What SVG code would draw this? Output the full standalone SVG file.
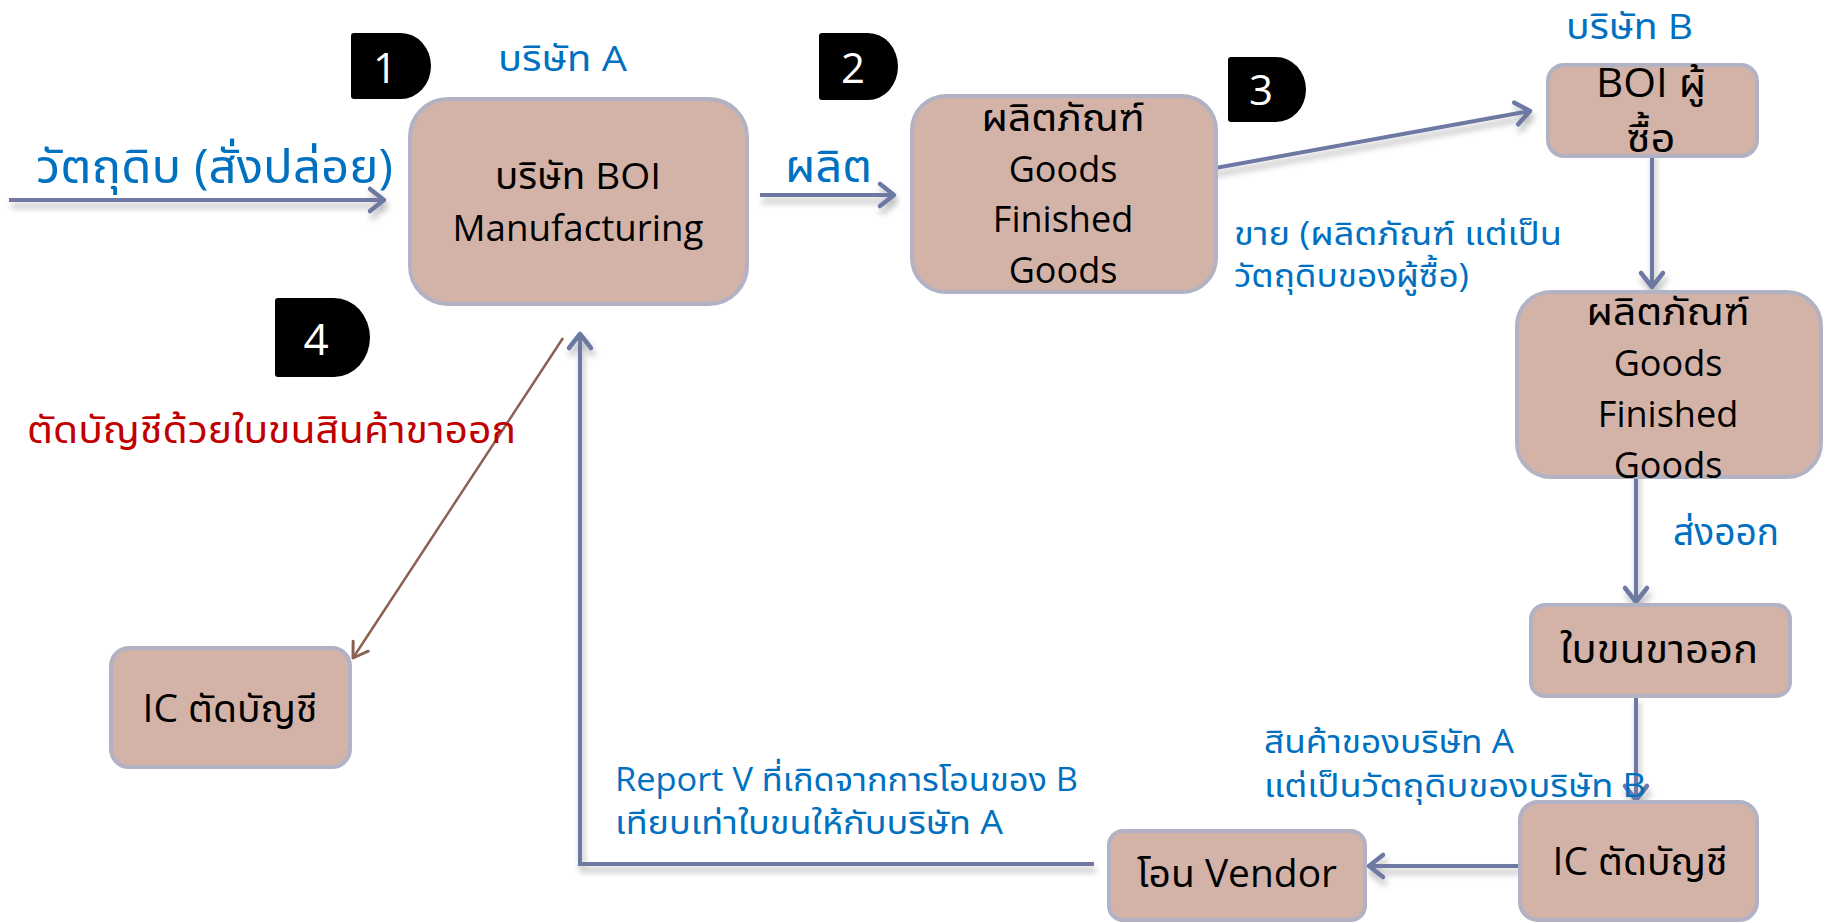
<svg xmlns="http://www.w3.org/2000/svg" width="1828" height="923" viewBox="0 0 1828 923">
<style>
.box{fill:#d3b3a8;stroke:#b2b2c5;stroke-width:4}
.t{font-family:"Open Sans","Noto Sans Thai","Noto Sans",sans-serif;fill:#000;text-anchor:middle}
.b{font-family:"Open Sans","Noto Sans Thai","Noto Sans",sans-serif;fill:#0070c0}
.r{font-family:"Open Sans","Noto Sans Thai","Noto Sans",sans-serif;fill:#c00000}
.badge{fill:#000}
.num{font-family:"Open Sans","Noto Sans",sans-serif;fill:#fff;font-size:42px;text-anchor:middle}
.conn{fill:none;stroke:#6d79a2;stroke-width:4;marker-end:url(#arr);filter:url(#sh)}
.brown{fill:none;stroke:#8a6152;stroke-width:2.5;marker-end:url(#arrB)}
</style>
<defs>
<marker id="arr" markerUnits="userSpaceOnUse" markerWidth="30" markerHeight="30" viewBox="-20 -15 24 30" refX="0" refY="0" orient="auto">
<path d="M-14,-11 L0,0 L-14,11" fill="none" stroke="#6d79a2" stroke-width="4.5" stroke-linecap="round" stroke-linejoin="round"/>
</marker>
<marker id="arrB" markerUnits="userSpaceOnUse" markerWidth="30" markerHeight="30" viewBox="-20 -15 24 30" refX="0" refY="0" orient="auto">
<path d="M-14,-9 L0,0 L-14,9" fill="none" stroke="#8a6152" stroke-width="3" stroke-linecap="round" stroke-linejoin="round"/>
</marker>
<filter id="sh" filterUnits="userSpaceOnUse" x="0" y="0" width="1828" height="923">
<feDropShadow dx="2" dy="6" stdDeviation="3" flood-color="#000" flood-opacity="0.28"/>
</filter>
</defs>

<g id="connectors">
<path class="conn" d="M9,200 H384"/>
<path class="conn" d="M760,195 H894"/>
<path class="conn" d="M1199,171 L1530,111"/>
<path class="conn" d="M1652,152 V287"/>
<path class="conn" d="M1636,468 V602"/>
<path class="conn" d="M1636,696 V800"/>
<path class="conn" d="M1519,866 H1369"/>
<path class="conn" d="M1094,864 H580 V334"/>
<path class="brown" d="M563,338 L353,658"/>
</g>

<g id="badge1"><path class="badge" d="M354,33 H401 A30,33 0 0 1 401,99 H354 Q351,99 351,96 V36 Q351,33 354,33 Z"/><text class="num" x="385" y="83">1</text></g>
<g id="badge2"><path class="badge" d="M822,33 H868 A30,33.5 0 0 1 868,100 H822 Q819,100 819,97 V36 Q819,33 822,33 Z"/><text class="num" x="853" y="83">2</text></g>
<g id="badge3"><path class="badge" d="M1231,57 H1276 A30,32.5 0 0 1 1276,122 H1231 Q1228,122 1228,119 V60 Q1228,57 1231,57 Z"/><text class="num" x="1261" y="105">3</text></g>
<g id="badge4"><path class="badge" d="M278,298 H334 A36,39.5 0 0 1 334,377 H278 Q275,377 275,374 V301 Q275,298 278,298 Z"/><text class="num" x="316" y="355" style="font-size:44px">4</text></g>

<g id="label-companyA"><text class="b" x="498" y="71" font-size="35" textLength="129" lengthAdjust="spacingAndGlyphs">บริษัท A</text></g>
<g id="label-raw"><text class="b" x="36" y="183" font-size="47" textLength="357" lengthAdjust="spacingAndGlyphs">วัตถุดิบ (สั่งปล่อย)</text></g>
<g id="label-produce"><text class="b" x="785" y="182" font-size="44" textLength="87" lengthAdjust="spacingAndGlyphs">ผลิต</text></g>
<g id="label-companyB"><text class="b" x="1566" y="39" font-size="35" textLength="127" lengthAdjust="spacingAndGlyphs">บริษัท B</text></g>
<g id="label-sell"><text class="b" x="1234" y="245" font-size="32" textLength="328" lengthAdjust="spacingAndGlyphs">ขาย (ผลิตภัณฑ์ แต่เป็น</text><text class="b" x="1234" y="287" font-size="32" textLength="235" lengthAdjust="spacingAndGlyphs">วัตถุดิบของผู้ซื้อ)</text></g>
<g id="label-export"><text class="b" x="1673" y="545" font-size="37" textLength="106" lengthAdjust="spacingAndGlyphs">ส่งออก</text></g>
<g id="label-cut"><text class="r" x="27" y="443" font-size="37" textLength="489" lengthAdjust="spacingAndGlyphs">ตัดบัญชีด้วยใบขนสินค้าขาออก</text></g>
<g id="label-report"><text class="b" x="615" y="791" font-size="32" textLength="463" lengthAdjust="spacingAndGlyphs">Report V ที่เกิดจากการโอนของ B</text><text class="b" x="615" y="834" font-size="32" textLength="388" lengthAdjust="spacingAndGlyphs">เทียบเท่าใบขนให้กับบริษัท A</text></g>
<g id="label-goodsA"><text class="b" x="1264" y="753" font-size="32" textLength="250" lengthAdjust="spacingAndGlyphs">สินค้าของบริษัท A</text><text class="b" x="1264" y="797" font-size="32" textLength="382" lengthAdjust="spacingAndGlyphs">แต่เป็นวัตถุดิบของบริษัท B</text></g>

<g id="node-boi-mfg"><rect class="box" x="410" y="99" width="337" height="205" rx="38"/><text class="t" x="578" y="189" font-size="37" textLength="166" lengthAdjust="spacingAndGlyphs">บริษัท BOI</text><text class="t" x="578" y="241" font-size="37" textLength="251" lengthAdjust="spacingAndGlyphs">Manufacturing</text></g>
<g id="node-goods1"><rect class="box" x="912" y="96" width="304" height="196" rx="34"/><text class="t" x="1063" y="131" font-size="38" textLength="163" lengthAdjust="spacingAndGlyphs">ผลิตภัณฑ์</text><text class="t" x="1063" y="182" font-size="36">Goods</text><text class="t" x="1063" y="232" font-size="36">Finished</text><text class="t" x="1063" y="283" font-size="36">Goods</text></g>
<g id="node-boi-buyer"><rect class="box" x="1548" y="65" width="209" height="91" rx="16"/><text class="t" x="1651" y="97" font-size="40" textLength="110" lengthAdjust="spacingAndGlyphs">BOI ผู้</text><text class="t" x="1651" y="152" font-size="40" textLength="49" lengthAdjust="spacingAndGlyphs">ซื้อ</text></g>
<g id="node-goods2"><rect class="box" x="1517" y="292" width="304" height="185" rx="34"/><text class="t" x="1668" y="325" font-size="38" textLength="163" lengthAdjust="spacingAndGlyphs">ผลิตภัณฑ์</text><text class="t" x="1668" y="376" font-size="36">Goods</text><text class="t" x="1668" y="427" font-size="36">Finished</text><text class="t" x="1668" y="478" font-size="36">Goods</text></g>
<g id="node-export-doc"><rect class="box" x="1531" y="605" width="259" height="91" rx="14"/><text class="t" x="1659" y="663" font-size="40" textLength="198" lengthAdjust="spacingAndGlyphs">ใบขนขาออก</text></g>
<g id="node-ic-right"><rect class="box" x="1520" y="802" width="237" height="118" rx="18"/><text class="t" x="1640" y="875" font-size="38" textLength="175" lengthAdjust="spacingAndGlyphs">IC ตัดบัญชี</text></g>
<g id="node-vendor"><rect class="box" x="1109" y="831" width="256" height="89" rx="14"/><text class="t" x="1237" y="887" font-size="38" textLength="200" lengthAdjust="spacingAndGlyphs">โอน Vendor</text></g>
<g id="node-ic-left"><rect class="box" x="111" y="648" width="239" height="119" rx="18"/><text class="t" x="230" y="722" font-size="38" textLength="175" lengthAdjust="spacingAndGlyphs">IC ตัดบัญชี</text></g>
</svg>
